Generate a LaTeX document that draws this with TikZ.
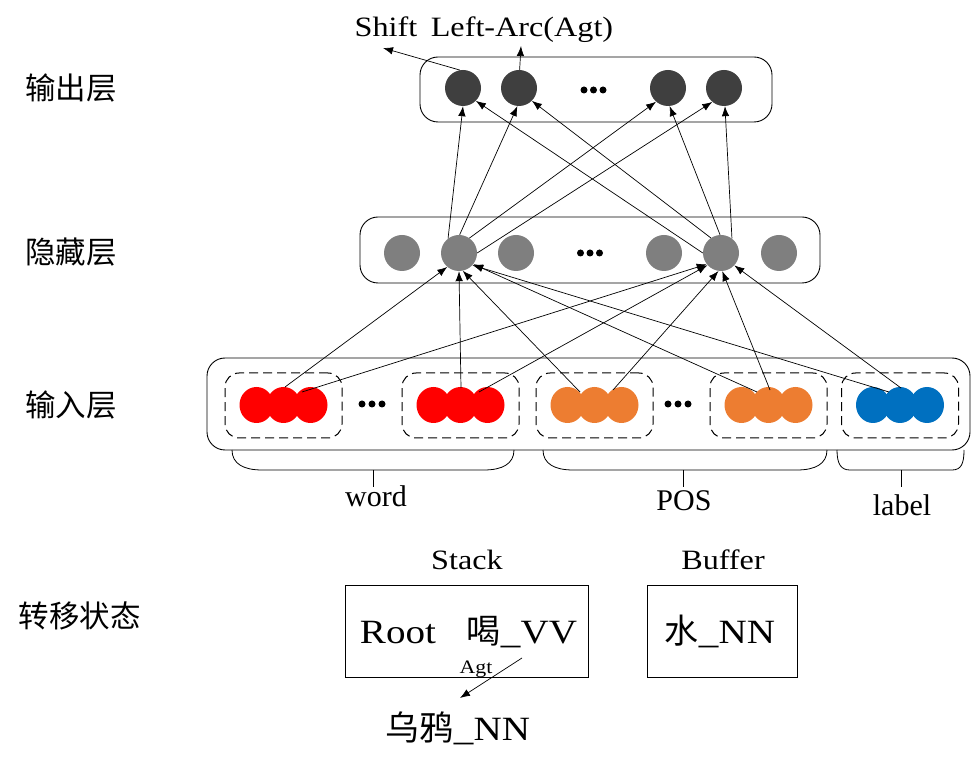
\documentclass[tikz,border=0pt]{standalone}
\usepackage{fontspec}
\setmainfont{Liberation Serif}
\newfontfamily\sunf{Liberation Serif}[FakeStretch=1.15]
\newfontfamily\cjk{Noto Sans CJK SC}
\usetikzlibrary{arrows.meta,shapes.geometric}
\definecolor{outgray}{HTML}{3F3F3F}
\definecolor{hidgray}{HTML}{7F7F7F}
\definecolor{wred}{HTML}{FF0000}
\definecolor{porange}{HTML}{ED7D31}
\definecolor{lblue}{HTML}{0070C0}
\tikzset{
  lay/.style={draw, line width=0.9pt, rounded corners=18pt, inner sep=0pt},
  outn/.style={circle, fill=outgray, minimum size=36pt, inner sep=0pt},
  hidn/.style={circle, fill=hidgray, minimum size=36pt, inner sep=0pt},
  grp/.style={draw, dash pattern=on 9pt off 5pt, line width=1pt, rounded corners=14pt,
              minimum width=117pt, minimum height=65pt, inner sep=0pt},
  ell/.style={ellipse, minimum width=34pt, minimum height=36pt, inner sep=0pt},
  conn/.style={line width=0.7pt, -{Latex[length=10pt,width=7.5pt]}},
  dotn/.style={circle, fill=black, minimum size=7pt, inner sep=0pt},
  brace/.style={line width=0.8pt},
  sidelbl/.style={font=\cjk\fontsize{30.5}{32}\selectfont},
  grplbl/.style={anchor=base, font=\fontsize{30}{32}\selectfont},
  toplbl/.style={anchor=base, font=\sunf\fontsize{28}{30}\selectfont},
  statebox/.style={draw, line width=0.9pt, inner sep=0pt},
  statetxt/.style={anchor=base, font=\sunf\fontsize{34}{36}\selectfont},
}
\begin{document}
\begin{tikzpicture}[x=1pt,y=-1pt]
\useasboundingbox (0,0) rectangle (978,775);

% left labels
\node[sidelbl] (lout) at (71,88) {输出层};
\node[sidelbl] (lhid) at (71,252) {隐藏层};
\node[sidelbl] (lin)  at (71,405) {输入层};
\node[sidelbl] (lst)  at (80,616) {转移状态};

% layer boxes
\node[lay, minimum width=352pt, minimum height=65pt] (outbox) at (596,89.5) {};
\node[lay, minimum width=460pt, minimum height=66pt] (hidbox) at (590,250) {};
\node[lay, minimum width=763pt, minimum height=92pt] (inbox) at (588.5,404) {};

% output nodes
\node[outn] (o1) at (463,88) {};
\node[outn] (o2) at (519,88) {};
\node[outn] (o3) at (668,88) {};
\node[outn] (o4) at (724,88) {};
\foreach \i/\x in {1/584,2/593.5,3/603} \node[dotn] (od\i) at (\x,90) {};

% hidden nodes
\node[hidn] (h1) at (402,253) {};
\node[hidn] (h2) at (459,253) {};
\node[hidn] (h3) at (516,253) {};
\node[hidn] (h4) at (664,253) {};
\node[hidn] (h5) at (721,253) {};
\node[hidn] (h6) at (779,253) {};
\foreach \i/\x in {1/580.5,2/590,3/599.5} \node[dotn] (hd\i) at (\x,253) {};

% input groups
\foreach \g/\x/\c in {1/283.5/wred,2/460.5/wred,3/594.5/porange,4/768.5/porange,5/900/lblue}{
  \node[grp] (g\g) at (\x,405.5) {};
  \node[ell, fill=\c] (g\g a) at (\x-27,405) {};
  \node[ell, fill=\c] (g\g b) at (\x,405) {};
  \node[ell, fill=\c] (g\g c) at (\x+27,405) {};
}
\foreach \i/\x in {1/362,2/372,3/382} \node[dotn] (id\i) at (\x,404) {};
\foreach \i/\x in {1/668,2/678,3/688} \node[dotn] (jd\i) at (\x,404) {};

% braces
\draw[brace] (232,450) .. controls (232,464) and (244,470) .. (262,470) -- (484,470)
  .. controls (502,470) and (514,464) .. (514,450);
\draw[brace] (373,470) -- (373,487);
\draw[brace] (543,450) .. controls (543,464) and (555,470) .. (573,470) -- (797,470)
  .. controls (815,470) and (827,464) .. (827,450);
\draw[brace] (683,470) -- (683,487);
\draw[brace] (837,450) .. controls (837,464) and (841,470) .. (850,470) -- (952,470)
  .. controls (961,470) and (964,464) .. (964,450);
\draw[brace] (901,470) -- (901,487);
\node[grplbl] (wordl) at (376,507) {word};
\node[grplbl] (posl) at (684,511) {POS};
\node[grplbl] (labl) at (902,515) {label};

% input -> hidden
\coordinate (s1a) at (285,387);
\coordinate (s1b) at (302,392);
\coordinate (s2a) at (461,388);
\coordinate (s2b) at (479,392);
\coordinate (s3a) at (580,392);
\coordinate (s3b) at (613,390);
\coordinate (s4a) at (757,392);
\coordinate (s4b) at (770,390);
\coordinate (s5a) at (889,392);
\coordinate (s5b) at (901,388);
\draw[conn] (s1a) -- (h2.230);
\draw[conn] (s1b) -- (h5.218);
\draw[conn] (s2a) -- (h2.270);
\draw[conn] (s2b) -- (h5.222);
\draw[conn] (s3a) -- (h2.282);
\draw[conn] (s3b) -- (h5.262);
\draw[conn] (s4a) -- (h2.322);
\draw[conn] (s4b) -- (h5.274);
\draw[conn] (s5a) -- (h2.318);
\draw[conn] (s5b) -- (h5.317);

% hidden -> output
\draw[conn] (h2.127) -- (o1.270);
\draw[conn] (h2.88)  -- (o2.265);
\draw[conn] (h2.55)  -- (o3.229);
\draw[conn] (h2.0)   -- (o4.230);
\draw[conn] (h5.180) -- (o1.315);
\draw[conn] (h5.124) -- (o2.315);
\draw[conn] (h5.93)  -- (o3.275);
\draw[conn] (h5.53)  -- (o4.273);

% output actions
\node[toplbl] (shiftl) at (386,37) {Shift};
\node[toplbl] (larcl) at (522,37) {Left-Arc(Agt)};
\coordinate (shiftend) at (383,48);
\coordinate (larcend) at (521,46);
\draw[conn] (o1.100) -- (shiftend);
\draw[conn] (o2.88) -- (larcend);

% transition state
\node[toplbl] (stackl) at (467,569) {Stack};
\node[toplbl] (bufl) at (723,569) {Buffer};
\node[statebox, minimum width=243pt, minimum height=92pt] (stackbox) at (466.5,631) {};
\node[statebox, minimum width=150pt, minimum height=92pt] (bufbox) at (722,631) {};
\node[statetxt] (root) at (398,643) {Root};
\node[statetxt] (he) at (522,643) {{\cjk 喝}\_VV};
\node[statetxt] (shui) at (720,643) {{\cjk 水}\_NN};
\node[statetxt] (wuya) at (458,740) {{\cjk 乌鸦}\_NN};
\node[anchor=base, font=\sunf\fontsize{19}{20}\selectfont] (agt) at (476,673) {Agt};
\coordinate (agtstart) at (522,658);
\coordinate (agtend) at (460,698);
\draw[conn] (agtstart) -- (agtend);
\end{tikzpicture}
\end{document}
